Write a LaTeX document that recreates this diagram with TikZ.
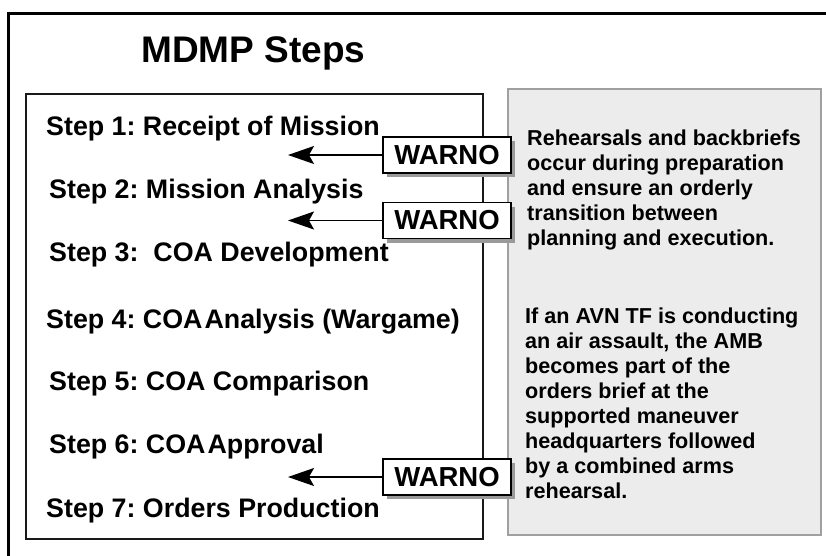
\documentclass[tikz,border=0pt]{standalone}
\usepackage{fontspec}
\setmainfont{Liberation Sans}
\usetikzlibrary{arrows.meta,shadows}
\definecolor{panelgray}{HTML}{ECECEC}
\definecolor{panelline}{HTML}{A0A0A0}
\definecolor{shadowgray}{HTML}{9A9A9A}
\frenchspacing
\begin{document}
\begin{tikzpicture}[x=1pt,y=-1pt,
  titletext/.style={anchor=base, inner sep=0pt, font=\bfseries\fontsize{37}{42}\selectfont},
  steptext/.style={anchor=base west, inner sep=0pt, font=\bfseries\fontsize{26.8}{30}\selectfont},
  warnobox/.style={draw, line width=1.8pt, fill=white, minimum width=128pt, minimum height=36pt,
    inner sep=0pt, font=\bfseries\fontsize{27.5}{30}\selectfont,
    drop shadow={shadow xshift=4pt, shadow yshift=-4pt, fill=shadowgray, opacity=1}},
  warnarrow/.style={-{Stealth[length=26pt,width=18pt,inset=5pt]}, line width=1.5pt},
  notetext/.style={anchor=base west, inner sep=0pt, align=left, font=\bfseries\fontsize{21.6}{25}\selectfont}
]
\useasboundingbox (0,0) rectangle (826,555);
\fill[white] (0,0) rectangle (826,555);
% outer frame (only top and left edges visible)
\coordinate (fa) at (830,13);
\coordinate (fb) at (8,13);
\coordinate (fc) at (8,560);
\draw[line width=3pt] (fa) -- (fb) -- (fc);
% steps panel
\draw[line width=1.5pt, draw=black!90] (26,94) rectangle (483,539);
% note panel
\draw[line width=2.5pt, draw=panelline, fill=panelgray] (508,89) rectangle (821,535);
% title
\node[titletext] (title) at (253.5,62) {MDMP Steps};
% steps
\node[steptext] (s1) at (46,135) {Step 1: Receipt of Mission};
\node[steptext] (s2) at (49,198) {Step 2: Mission Analysis};
\node[steptext] (s3) at (49,261) {Step 3:\ \ COA Development};
\node[steptext] (s4) at (46,328) {Step 4: COA\kern-0.2em{} Analysis (Wargame)};
\node[steptext] (s5) at (49,390) {Step 5: COA Comparison};
\node[steptext] (s6) at (49,453) {Step 6: COA\kern-0.2em{} Approval};
\node[steptext] (s7) at (46,517) {Step 7: Orders Production};
% WARNO boxes and arrows
\node[warnobox] (w1) at (447,155) {WARNO};
\node[warnobox] (w2) at (447,220.5) {WARNO};
\node[warnobox] (w3) at (447,477) {WARNO};
\coordinate (t1) at (288,155);
\coordinate (t2) at (288,220.5);
\coordinate (t3) at (288,477);
\draw[warnarrow] (w1.west) -- (t1);
\draw[warnarrow] (w2.west) -- (t2);
\draw[warnarrow] (w3.west) -- (t3);
% notes
\node[notetext] (n1) at (527,245) {Rehearsals and backbriefs\\occur during preparation\\and ensure an orderly\\transition between\\planning and execution.};
\node[notetext] (n2) at (525,498) {If an AVN TF is conducting\\an air assault, the AMB\\becomes part of the\\orders brief at the\\supported maneuver\\headquarters followed\\by a combined arms\\rehearsal.};
\end{tikzpicture}
\end{document}
